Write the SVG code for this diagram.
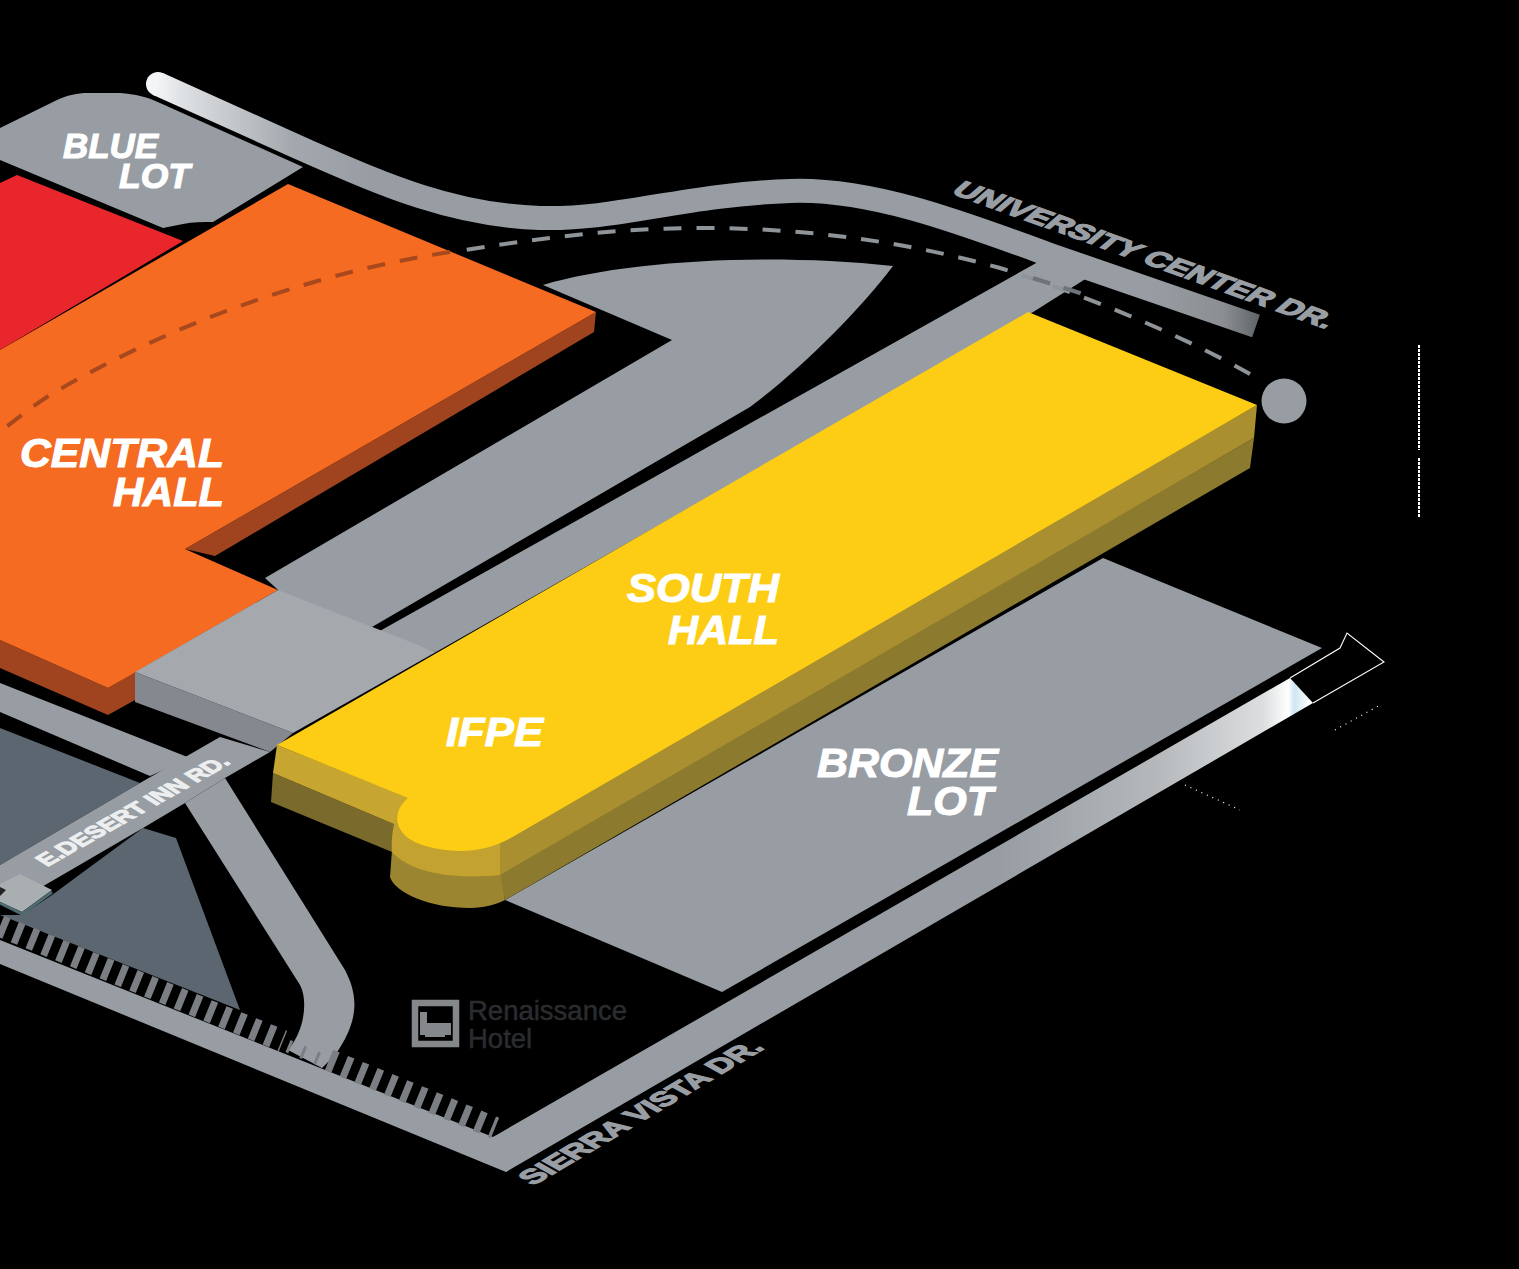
<svg xmlns="http://www.w3.org/2000/svg" width="1519" height="1269" viewBox="0 0 1519 1269">
<defs>
<style>
.road{fill:#979da3}
.slate{fill:#5b6670}
.lbl{font-family:"Liberation Sans",Arial,sans-serif;font-weight:700;font-style:italic;fill:#fff;stroke:#fff;stroke-width:1.1px;font-size:41px}
.small{font-size:35px}
.street{font-family:"Liberation Sans",Arial,sans-serif;font-weight:700;font-size:20px;stroke-width:1.1px}
.hotel{font-family:"Liberation Sans",Arial,sans-serif;font-size:27.5px;fill:#2a2c2f;stroke:#2a2c2f;stroke-width:.5px}
.rail{fill:none;stroke:#7b7f83}
</style>
<linearGradient id="uni" gradientUnits="userSpaceOnUse" x1="148" y1="0" x2="1262" y2="0">
<stop offset="0" stop-color="#f4f5f6"/><stop offset=".012" stop-color="#f0f1f3"/><stop offset=".03" stop-color="#dfe2e4"/><stop offset=".13" stop-color="#a2a8ad"/><stop offset=".2" stop-color="#979da3"/><stop offset=".9" stop-color="#979da3"/><stop offset=".965" stop-color="#8b8f93"/><stop offset="1" stop-color="#5e6164"/>
</linearGradient>
<linearGradient id="sie" gradientUnits="userSpaceOnUse" x1="1000" y1="0" x2="1310" y2="0">
<stop offset="0" stop-color="#979da3"/><stop offset=".5" stop-color="#b4b8bb"/><stop offset=".85" stop-color="#dcdedf"/><stop offset=".93" stop-color="#ffffff"/><stop offset=".95" stop-color="#cfe6f2"/><stop offset="1" stop-color="#ffffff"/>
</linearGradient>
</defs>
<rect width="1519" height="1269" fill="#000"/>

<g id="ground">
<path id="blue-lot-shape" class="road" d="M0,128 L57,100 C68,95 78,93 87,93 L120,93 C135,94 148,97 160,103 L303,167 L213,222 C203,222 193,222 183,224 L163,228 L0,160Z"/>
<path id="upper-lot" class="road" d="M265,578 L672,340 L543,285 C620,262 760,252 893,266 C860,310 800,370 750,407 L372,627 L300,610Z"/>
<path id="spur-road" class="road" d="M1038,262 L1087,278 L1030,314 L436,652 L378,632Z"/>
<circle cx="158" cy="84" r="12" fill="#f4f5f6"/>
<path id="university-road" fill="none" stroke="url(#uni)" stroke-width="24" d="M158,84 L300,148 C380,183 450,215 540,218 C620,220 680,195 790,191 C870,188 960,222 1050,255 L1256,326"/>
<path id="lot-bronze" class="road" d="M1103,558 L1322,648 L722,992 L505,900Z"/>
<path id="slate-a" class="slate" d="M0,728 L140,783 L0,865Z"/>
<path id="slate-b" class="slate" d="M143,828 L176,838 L240,1010 L0,915 L22,915 L52,895Z"/>
<path id="road-west" class="road" d="M0,683 L190,758 L150,776 L0,712Z"/>
<path id="road-desert" class="road" d="M220,737 L270,752 L225,778 L185,803 L143,828 L40,888 L0,900 L0,865 L140,783Z"/>
<path id="road-loop" class="road" d="M225,778 L345,970 C358,995 360,1020 335,1055 L322,1068 L288,1050 C305,1030 308,1000 300,985 L185,803Z"/>
<path id="road-south" class="road" d="M0,940 L493,1137 L530,1125 L530,1150 L506,1172 L0,964Z"/>
<path id="road-sierra" fill="url(#sie)" d="M493,1137 L1290,678 L1313,703 L506,1172Z"/>
<path id="block" fill="#a9aeb1" d="M0,884 L20,874 L52,890 L22,912 L0,902Z"/>
<path fill="none" stroke="#4f6a70" stroke-width="3" d="M0,903 L22,914 L52,892"/>
<path d="M0,887 L6,890 L0,896Z" fill="#222"/>
<g id="rail">
<path class="rail" stroke-width="22" stroke-dasharray="7 9" d="M0,926 L283,1041"/>
<path class="rail" stroke-width="13" stroke-dasharray="3 12" d="M288,1046 L326,1062"/>
<path class="rail" stroke-width="22" stroke-dasharray="7 9" d="M329,1060 L495,1128"/>
</g>
</g>

<g id="artifacts" fill="none" stroke="#fff">
<path stroke-width="1.1" d="M1313,703 L1384,662 L1347,633 L1340,648 L1290,678"/>
<path stroke-width="2" stroke-dasharray="3 1" d="M1419,345 V450 M1419,458 V518"/>
<path stroke-width="1.2" stroke-dasharray="1 5" d="M1185,785 L1240,810 M1335,730 L1380,705"/>
</g>

<g id="connectors" fill="none" stroke-width="4" stroke-dasharray="18 15">
<path stroke="#8f9499" d="M1250,374 C1190,340 1100,300 1000,268 C900,240 800,228 700,228 C610,228 530,240 458,251"/>
<path stroke="#6d7379" stroke-dasharray="18 14" d="M1033,278 L1083,294"/>
</g>

<g id="red-hall"><path fill="#e8262c" d="M0,183 L17,175 L183,241 L0,350Z"/></g>

<g id="central-hall">
<path fill="#a0431f" d="M596,312 L594,332 L215,556 L185,549Z"/>
<path fill="#a0431f" d="M0,640 L108,688 L135,672 L135,700 L108,715 L0,668Z"/>
<path fill="#f46b21" d="M288,184 L596,312 L185,549 L278,590 L108,688 L0,640 L0,350Z"/>
<path fill="none" stroke="#a8481f" stroke-width="4" stroke-dasharray="18 15" d="M450,252 C300,275 160,330 50,395 C30,408 15,420 0,432"/>
<text class="lbl" x="20" y="467" textLength="204" lengthAdjust="spacingAndGlyphs">CENTRAL</text>
<text class="lbl" x="113" y="506" textLength="111" lengthAdjust="spacingAndGlyphs">HALL</text>
</g>

<g id="bridge">
<path fill="#85898f" d="M135,672 L293,733 L270,752 L135,702Z"/>
<path fill="#a5a9ad" d="M278,590 L436,652 L293,733 L135,672Z"/>
</g>

<g id="south-hall">
<path fill="#8c7a2e" d="M1254,438 L1250,468 L505,900 L498,873Z"/>
<path fill="#a98f2f" d="M1257,405 L1254,438 L500,875 L498,840Z"/>
<path fill="#7a6a2c" d="M273,773 L271,802 L392,852 L396,825Z"/>
<path fill="#c6a530" d="M277,745 L273,773 L396,825 L410,798Z"/>
<path fill="#9c8530" d="M392,850 L390,877 C395,893 430,908 470,908 C485,908 497,904 505,900 L500,873 C450,880 410,872 392,850Z"/>
<path fill="#c4a230" d="M398,812 C392,825 391,845 392,852 C410,872 450,880 500,875 L500,843Z"/>
<path fill="#fccd14" d="M1028,312 L1257,405 L516,835 C498,846 480,851 460,851 C435,850 412,845 402,832 C394,822 396,808 408,798 L277,745Z"/>
<text class="lbl" x="627" y="602" textLength="152" lengthAdjust="spacingAndGlyphs">SOUTH</text>
<text class="lbl" x="668" y="644" textLength="111" lengthAdjust="spacingAndGlyphs">HALL</text>
<text class="lbl" x="446" y="746" textLength="97" lengthAdjust="spacingAndGlyphs">IFPE</text>
</g>

<g id="blue-lot">
<text class="lbl small" x="63" y="158" textLength="95" lengthAdjust="spacingAndGlyphs">BLUE</text>
<text class="lbl small" x="119" y="188" textLength="71" lengthAdjust="spacingAndGlyphs">LOT</text>
</g>

<g id="bronze-lot">
<text class="lbl" x="817" y="777" textLength="181" lengthAdjust="spacingAndGlyphs">BRONZE</text>
<text class="lbl" x="907" y="815" textLength="86" lengthAdjust="spacingAndGlyphs">LOT</text>
</g>

<circle id="end-point" cx="1284" cy="401" r="22.5" fill="#979da3"/>

<g id="hotel">
<rect x="415" y="1003" width="41" height="41" fill="none" stroke="#85888b" stroke-width="6.5"/>
<path fill="#85888b" d="M420,1012 H427 V1023 H451 V1035 H445 V1037 H425 V1035 H420Z"/>
<text class="hotel" x="468" y="1020">Renaissance</text>
<text class="hotel" x="468" y="1048">Hotel</text>
</g>

<g id="street-labels">
<text class="street" fill="#eceeef" stroke="#eceeef" transform="matrix(.87,-.49,.97,.62,47,867)" textLength="212" lengthAdjust="spacingAndGlyphs">E.DESERT INN RD.</text>
<text class="street" fill="#989ea4" stroke="#989ea4" transform="matrix(.94,.34,-1.04,.9,950,193)" textLength="400" lengthAdjust="spacingAndGlyphs">UNIVERSITY CENTER DR.</text>
<text class="street" fill="#989ea4" stroke="#989ea4" transform="matrix(.86,-.51,1.25,.7,533,1186)" textLength="270" lengthAdjust="spacingAndGlyphs">SIERRA VISTA DR.</text>
</g>
</svg>
